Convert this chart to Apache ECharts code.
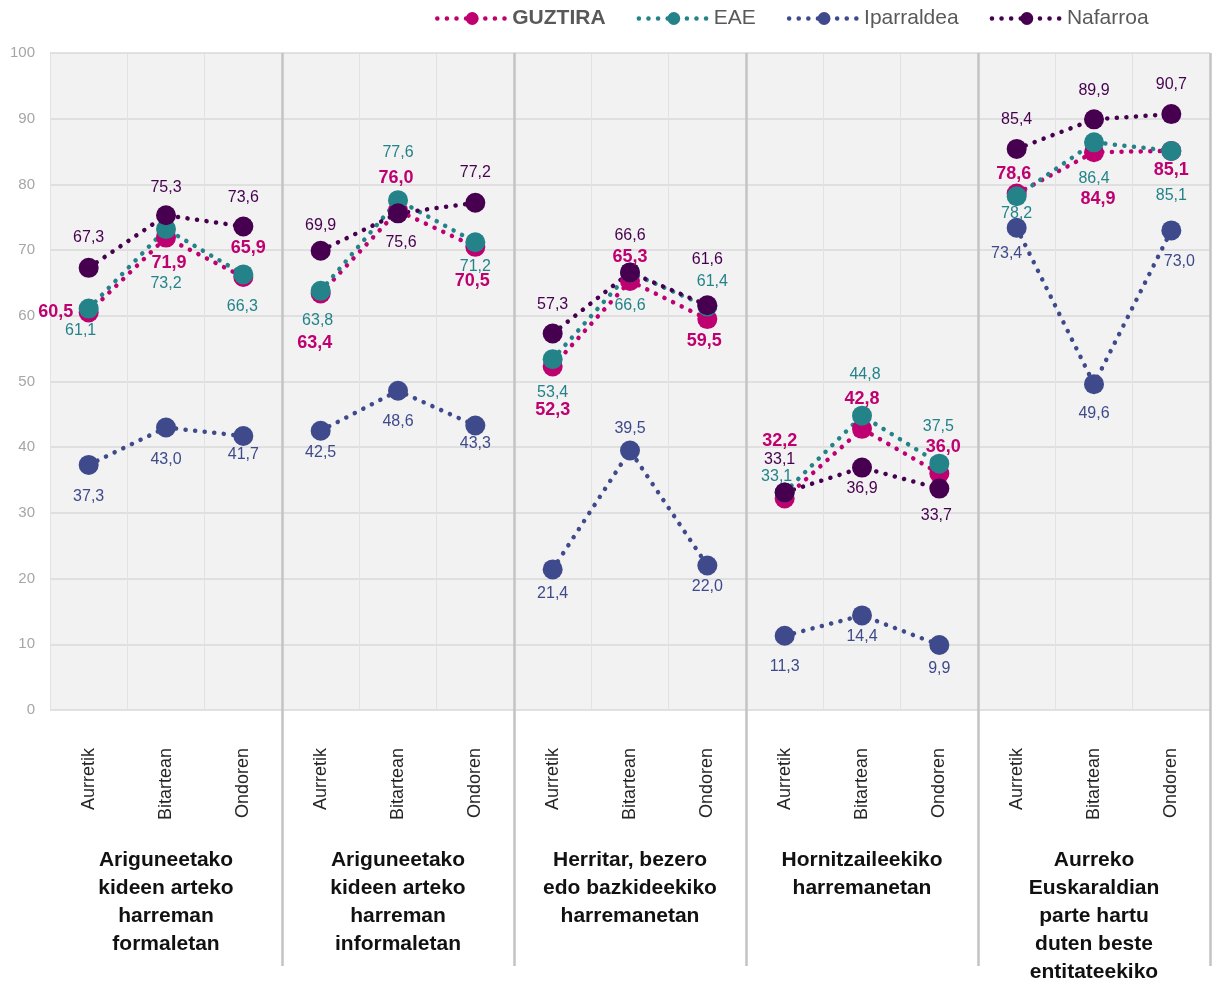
<!DOCTYPE html>
<html>
<head>
<meta charset="utf-8">
<title>Euskaraldia - harremanak</title>
<script src="https://cdn.jsdelivr.net/npm/echarts@6/dist/echarts.min.js"></script>
<style>
  html, body { margin: 0; padding: 0; background: #fff; }
  #main { width: 1214px; height: 982px; }
</style>
</head>
<body>
<div id="main"></div>
<script type="text/javascript">
  // categories
  const groupNames = [
    'Ariguneetako\nkideen arteko\nharreman\nformaletan',
    'Ariguneetako\nkideen arteko\nharreman\ninformaletan',
    'Herritar, bezero\nedo bazkideekiko\nharremanetan',
    'Hornitzaileekiko\nharremanetan',
    'Aurreko\nEuskaraldian\nparte hartu\nduten beste\nentitateekiko'
  ];
  const phases = ['Aurretik', 'Bitartean', 'Ondoren'];
  const seriesNames = ['GUZTIRA', 'EAE', 'Iparraldea', 'Nafarroa'];

  // values (3 per group)
  const guztira    = [60.5, 71.9, 65.9,  63.4, 76.0, 70.5,  52.3, 65.3, 59.5,  32.2, 42.8, 36.0,  78.6, 84.9, 85.1];
  const eae        = [61.1, 73.2, 66.3,  63.8, 77.6, 71.2,  53.4, 66.6, 61.4,  33.1, 44.8, 37.5,  78.2, 86.4, 85.1];
  const iparraldea = [37.3, 43.0, 41.7,  42.5, 48.6, 43.3,  21.4, 39.5, 22.0,  11.3, 14.4,  9.9,  73.4, 49.6, 73.0];
  const nafarroa   = [67.3, 75.3, 73.6,  69.9, 75.6, 77.2,  57.3, 66.6, 61.6,  33.1, 36.9, 33.7,  85.4, 89.9, 90.7];

  // label placement (style only): [dx, dy] from the marker centre
  const offGuz = [[-33,0],[3,25],[5,-29], [-6,50],[-2,-33],[-3,34], [0,44],[0,-24],[-3,22], [-5,-57],[0,-30],[4,-26], [-3,-20],[4,47],[0,19]];
  const offEae = [[-8,22],[0,55],[-1,32], [-3,30],[0,-48],[0,24], [0,33],[0,33],[5,-25], [-8,-16],[3,-41],[-1,-37], [0,17],[0,36],[0,45]];
  const offIpa = [[0,32],[0,32],[0,19], [0,22],[0,31],[0,18], [0,24],[0,-22],[0,21], [0,31],[0,21],[0,24], [-10,26],[0,29],[8,31]];
  const offNaf = [[0,-30],[0,-28],[0,-29], [0,-25],[3,29],[0,-30], [0,-29],[0,-37],[0,-46], [-5,-33],[0,21],[-3,27], [0,-29],[0,-29],[0,-30]];

  const FONT = "'Liberation Sans', Arial, sans-serif";
  const DOTS = [0.1, 9.5];
  const categories = [];
  groupNames.forEach(function () { phases.forEach(function (p) { categories.push(p); }); });

  function makeSeries(name, values, color, offsets, bold) {
    const out = [];
    for (let g = 0; g < groupNames.length; g++) {
      const data = categories.map(function (c, i) {
        if (Math.floor(i / 3) !== g) return '-';
        return { value: values[i], label: { offset: offsets[i] } };
      });
      out.push({
        name: name,
        type: 'line',
        data: data,
        symbol: 'circle',
        symbolSize: 20,
        connectNulls: false,
        itemStyle: { color: color },
        lineStyle: { color: color, width: 4.5, type: DOTS, cap: 'round' },
        label: {
          show: true,
          position: 'inside',
          color: color,
          fontFamily: FONT,
          fontSize: bold ? 18 : 16,
          fontWeight: bold ? 'bold' : 'normal',
          textBorderWidth: 0,
          formatter: function (p) { return p.value.toFixed(1).replace('.', ','); }
        },
        emphasis: { disabled: true },
        animation: false
      });
    }
    return out;
  }

  const series = []
    .concat(makeSeries('GUZTIRA', guztira, '#BE0070', offGuz, true))
    .concat(makeSeries('EAE', eae, '#238389', offEae, false))
    .concat(makeSeries('Iparraldea', iparraldea, '#3E4A8B', offIpa, false))
    .concat(makeSeries('Nafarroa', nafarroa, '#46004F', offNaf, false));

  var myChart = echarts.init(document.getElementById('main'), null, { renderer: 'canvas' });
  var option = {
    animation: false,
    backgroundColor: '#ffffff',
    textStyle: { fontFamily: FONT },
    legend: {
      data: seriesNames,
      left: 430,
      top: 3,
      itemWidth: 70,
      itemHeight: 16,
      itemGap: 31,
      selectedMode: false,
      lineStyle: { width: 4.5, type: DOTS, cap: 'round' },
      textStyle: {
        fontFamily: FONT,
        fontSize: 21,
        color: '#595959',
        rich: { b: { fontFamily: FONT, fontSize: 21, fontWeight: 'bold', color: '#595959' } }
      },
      formatter: function (name) { return name === 'GUZTIRA' ? '{b|' + name + '}' : name; }
    },
    grid: {
      left: 50,
      right: 4,
      top: 53,
      bottom: 272,
      containLabel: false,
      outerBoundsMode: 'none',
      show: true,
      backgroundColor: '#f2f2f2',
      borderWidth: 0
    },
    xAxis: [
      {
        type: 'category',
        data: categories,
        boundaryGap: true,
        axisLine: { show: false },
        axisTick: { show: false },
        splitLine: { show: true, interval: 0, lineStyle: { color: '#e2e2e2', width: 1 } },
        axisLabel: {
          interval: 0,
          rotate: 90,
          margin: 38,
          fontFamily: FONT,
          fontSize: 18,
          color: '#262626'
        }
      },
      {
        type: 'category',
        data: groupNames,
        position: 'bottom',
        boundaryGap: true,
        axisLine: { show: false },
        axisTick: {
          show: true,
          interval: function (index) { return index > 0; },
          length: 256,
          lineStyle: { color: '#c3c3c3', width: 2.5 }
        },
        splitLine: {
          show: true,
          interval: function (index) { return index > 0; },
          lineStyle: { color: '#c3c3c3', width: 2.5 }
        },
        axisLabel: {
          interval: 0,
          margin: 136,
          fontFamily: FONT,
          fontSize: 21,
          fontWeight: 'bold',
          lineHeight: 28,
          color: '#111111'
        }
      }
    ],
    yAxis: {
      type: 'value',
      min: 0,
      max: 100,
      interval: 10,
      axisLine: { show: false },
      axisTick: { show: false },
      splitLine: { lineStyle: { color: '#d9d9d9', width: 1.5 } },
      axisLabel: { margin: 15, fontFamily: FONT, fontSize: 15, color: '#a6a6a6' }
    },
    series: series
  };

  myChart.setOption(option);
  window.addEventListener('resize', myChart.resize);
</script>
</body>
</html>
